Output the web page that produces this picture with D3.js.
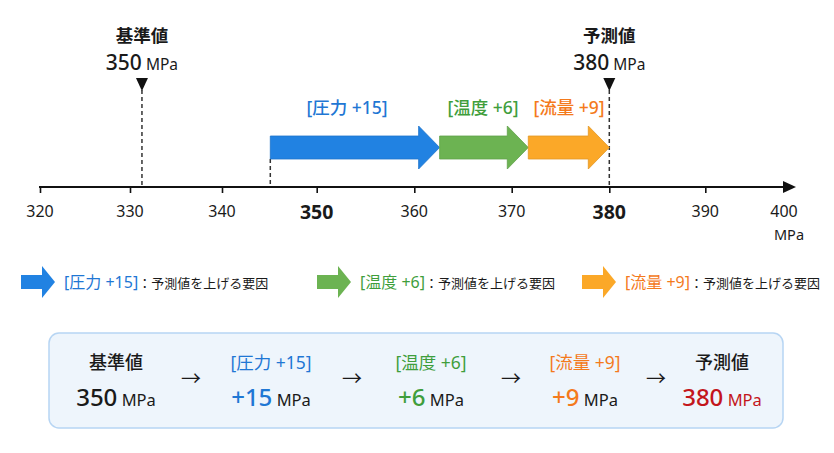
<!DOCTYPE html>
<html><head><meta charset="utf-8">
<script src="https://cdn.jsdelivr.net/npm/d3@7/dist/d3.min.js"></script>
<style>
html,body{margin:0;padding:0;background:#fff;}
svg{display:block;font-family:"Noto Sans","Noto Sans CJK JP",sans-serif;}
</style></head><body>
<svg id="c" width="834" height="453"></svg>
<script>
// ---- data ----
const tickValues = [320, 330, 340, 350, 360, 370, 380, 390, 400];
const emphasizedTicks = [350, 380];
const unit = "MPa";
const baseLabel = "基準値";
const baseValue = 350;
const baseMarkerAt = 331.3;      // where the base marker is drawn on the axis (as in the picture)
const predictedLabel = "予測値";
const predictedValue = 380;
const predictedMarkerAt = 380;
const factors = ["圧力", "温度", "流量"];
const deltas = [15, 6, 9];
const arrowStarts = [345.1, 362.6, 371.7];
const arrowEnds = [362.6, 371.7, 380];
const legendSuffix = "：予測値を上げる要因";

// ---- styles ----
const arrowFill = ["#2182e2", "#6cb352", "#fba828"];
const textCol = ["#1f77d4", "#3f9e3c", "#f47a1c"];
const red = "#c3161c";

const svg = d3.select("#c");
const x = d3.scaleLinear()
  .domain(tickValues)
  .range([40, 130, 222, 316.7, 414.3, 511.7, 609.3, 705.3, 784]);

const axisY = 187;

// axis
const ax = svg.append("g").attr("transform", `translate(0,${axisY})`)
  .call(d3.axisBottom(x).tickValues(tickValues.slice(0, -1)).tickSize(6).tickFormat(""));
ax.select(".domain").remove();
ax.selectAll(".tick line").attr("stroke", "#111").attr("stroke-width", 1.6);
svg.append("line").attr("x1", x(320) - 1).attr("x2", 786).attr("y1", axisY).attr("y2", axisY)
  .attr("stroke", "#111").attr("stroke-width", 2);
svg.append("path").attr("d", `M783,${axisY - 6}L796,${axisY}L783,${axisY + 6}Z`).attr("fill", "#111");

svg.append("g").selectAll("text").data(tickValues).join("text")
  .attr("x", d => x(d))
  .attr("y", d => emphasizedTicks.includes(d) ? 219 : 217)
  .attr("text-anchor", "middle")
  .attr("font-size", d => emphasizedTicks.includes(d) ? 19.5 : 16)
  .attr("font-weight", d => emphasizedTicks.includes(d) ? 700 : 400)
  .attr("fill", "#1a1a1a")
  .text(d => d);
svg.append("text").attr("x", x(400) + 5).attr("y", 240).attr("text-anchor", "middle")
  .attr("font-size", 14.5).attr("fill", "#1a1a1a").text(unit);

// markers
function marker(pos, label, value) {
  const cx = x(pos);
  svg.append("line").attr("x1", cx).attr("x2", cx).attr("y1", 90).attr("y2", axisY)
    .attr("stroke", "#333").attr("stroke-width", 1.5).attr("stroke-dasharray", "4,3");
  svg.append("path").attr("d", `M${cx - 6},78L${cx + 6},78L${cx},91Z`).attr("fill", "#111");
  svg.append("text").attr("x", cx).attr("y", 42).attr("text-anchor", "middle")
    .attr("font-size", 17.5).attr("font-weight", 700).attr("fill", "#1a1a1a")
    .attr("font-family", "'Noto Sans CJK JP',sans-serif").text(label);
  const t = svg.append("text").attr("x", cx).attr("y", 70).attr("text-anchor", "middle").attr("fill", "#1a1a1a");
  t.append("tspan").attr("font-size", 21).attr("font-weight", 500).text(value);
  t.append("tspan").attr("font-size", 15.5).text(" " + unit);
}
marker(baseMarkerAt, baseLabel, baseValue);
marker(predictedMarkerAt, predictedLabel, predictedValue);

// start dashed line
svg.append("line").attr("x1", x(arrowStarts[0])).attr("x2", x(arrowStarts[0]))
  .attr("y1", 159).attr("y2", axisY)
  .attr("stroke", "#333").attr("stroke-width", 1.5).attr("stroke-dasharray", "4,3");

// arrows
const bodyTop = 136, bodyBot = 159, headTop = 126, headBot = 169, headLen = 21;
const mid = (bodyTop + bodyBot) / 2;
svg.append("g").selectAll("path").data(factors).join("path")
  .attr("d", (d, i) => {
    const x0 = x(arrowStarts[i]), x1 = x(arrowEnds[i]), hx = x1 - headLen;
    return `M${x0},${bodyTop}L${hx},${bodyTop}L${hx},${headTop}L${x1},${mid}L${hx},${headBot}L${hx},${bodyBot}L${x0},${bodyBot}Z`;
  })
  .attr("fill", (d, i) => arrowFill[i])
  .attr("stroke", (d, i) => d3.color(arrowFill[i]).darker(0.3))
  .attr("stroke-width", 0.8);

const labelX = [347, 483, 569];
svg.append("g").selectAll("text").data(factors).join("text")
  .attr("x", (d, i) => labelX[i]).attr("y", 114)
  .attr("text-anchor", "middle").attr("font-size", 17.5).attr("font-weight", 500)
  .attr("fill", (d, i) => textCol[i])
  .text((d, i) => `[${d} +${deltas[i]}]`);

// legend
const legArrowX = [21, 317, 582];
const legY = 282;
factors.forEach((f, i) => {
  const x0 = legArrowX[i], hx = x0 + 21, tip = x0 + 34;
  svg.append("path")
    .attr("d", `M${x0},${legY - 7}L${hx},${legY - 7}L${hx},${legY - 16}L${tip},${legY}L${hx},${legY + 16}L${hx},${legY + 7}L${x0},${legY + 7}Z`)
    .attr("fill", arrowFill[i]);
  const t = svg.append("text").attr("x", tip + 9).attr("y", legY + 6);
  t.append("tspan").attr("font-size", 16).attr("fill", textCol[i]).text(`[${f} +${deltas[i]}]`);
  t.append("tspan").attr("font-size", 13).attr("fill", "#1a1a1a")
    .attr("font-family", "'Noto Sans CJK JP',sans-serif").text(legendSuffix);
});

// summary box
svg.append("rect").attr("x", 49).attr("y", 333).attr("width", 734).attr("height", 95)
  .attr("rx", 10).attr("fill", "#eef5fc").attr("stroke", "#b7d5f3").attr("stroke-width", 1.5);

const colX = [116, 271, 431, 585, 722];
const arrX = [191, 352, 511, 656];
const heads = [baseLabel].concat(factors.map((f, i) => `[${f} +${deltas[i]}]`)).concat([predictedLabel]);
const vals = [String(baseValue)].concat(deltas.map(d => "+" + d)).concat([String(predictedValue)]);
const headCol = ["#1a1a1a"].concat(textCol).concat(["#1a1a1a"]);
const valCol = ["#1a1a1a"].concat(textCol).concat([red]);
const unitCol = ["#1a1a1a", "#1a1a1a", "#1a1a1a", "#1a1a1a", red];

heads.forEach((h, i) => {
  svg.append("text").attr("x", colX[i]).attr("y", 369).attr("text-anchor", "middle")
    .attr("font-size", (i === 0 || i === 4) ? 18 : 17.5).attr("fill", headCol[i])
    .attr("font-weight", (i === 0 || i === 4) ? 500 : 400).text(h);
  const t = svg.append("text").attr("x", colX[i]).attr("y", 406).attr("text-anchor", "middle");
  t.append("tspan").attr("font-size", 24).attr("font-weight", 500).attr("fill", valCol[i]).text(vals[i]);
  t.append("tspan").attr("font-size", 16.5).attr("fill", unitCol[i]).text(" " + unit);
});
svg.append("g").selectAll("text").data(arrX).join("text")
  .attr("x", d => d).attr("y", 386).attr("text-anchor", "middle")
  .attr("font-size", 20).attr("fill", "#1a1a1a").text("→");
</script>
</body></html>
